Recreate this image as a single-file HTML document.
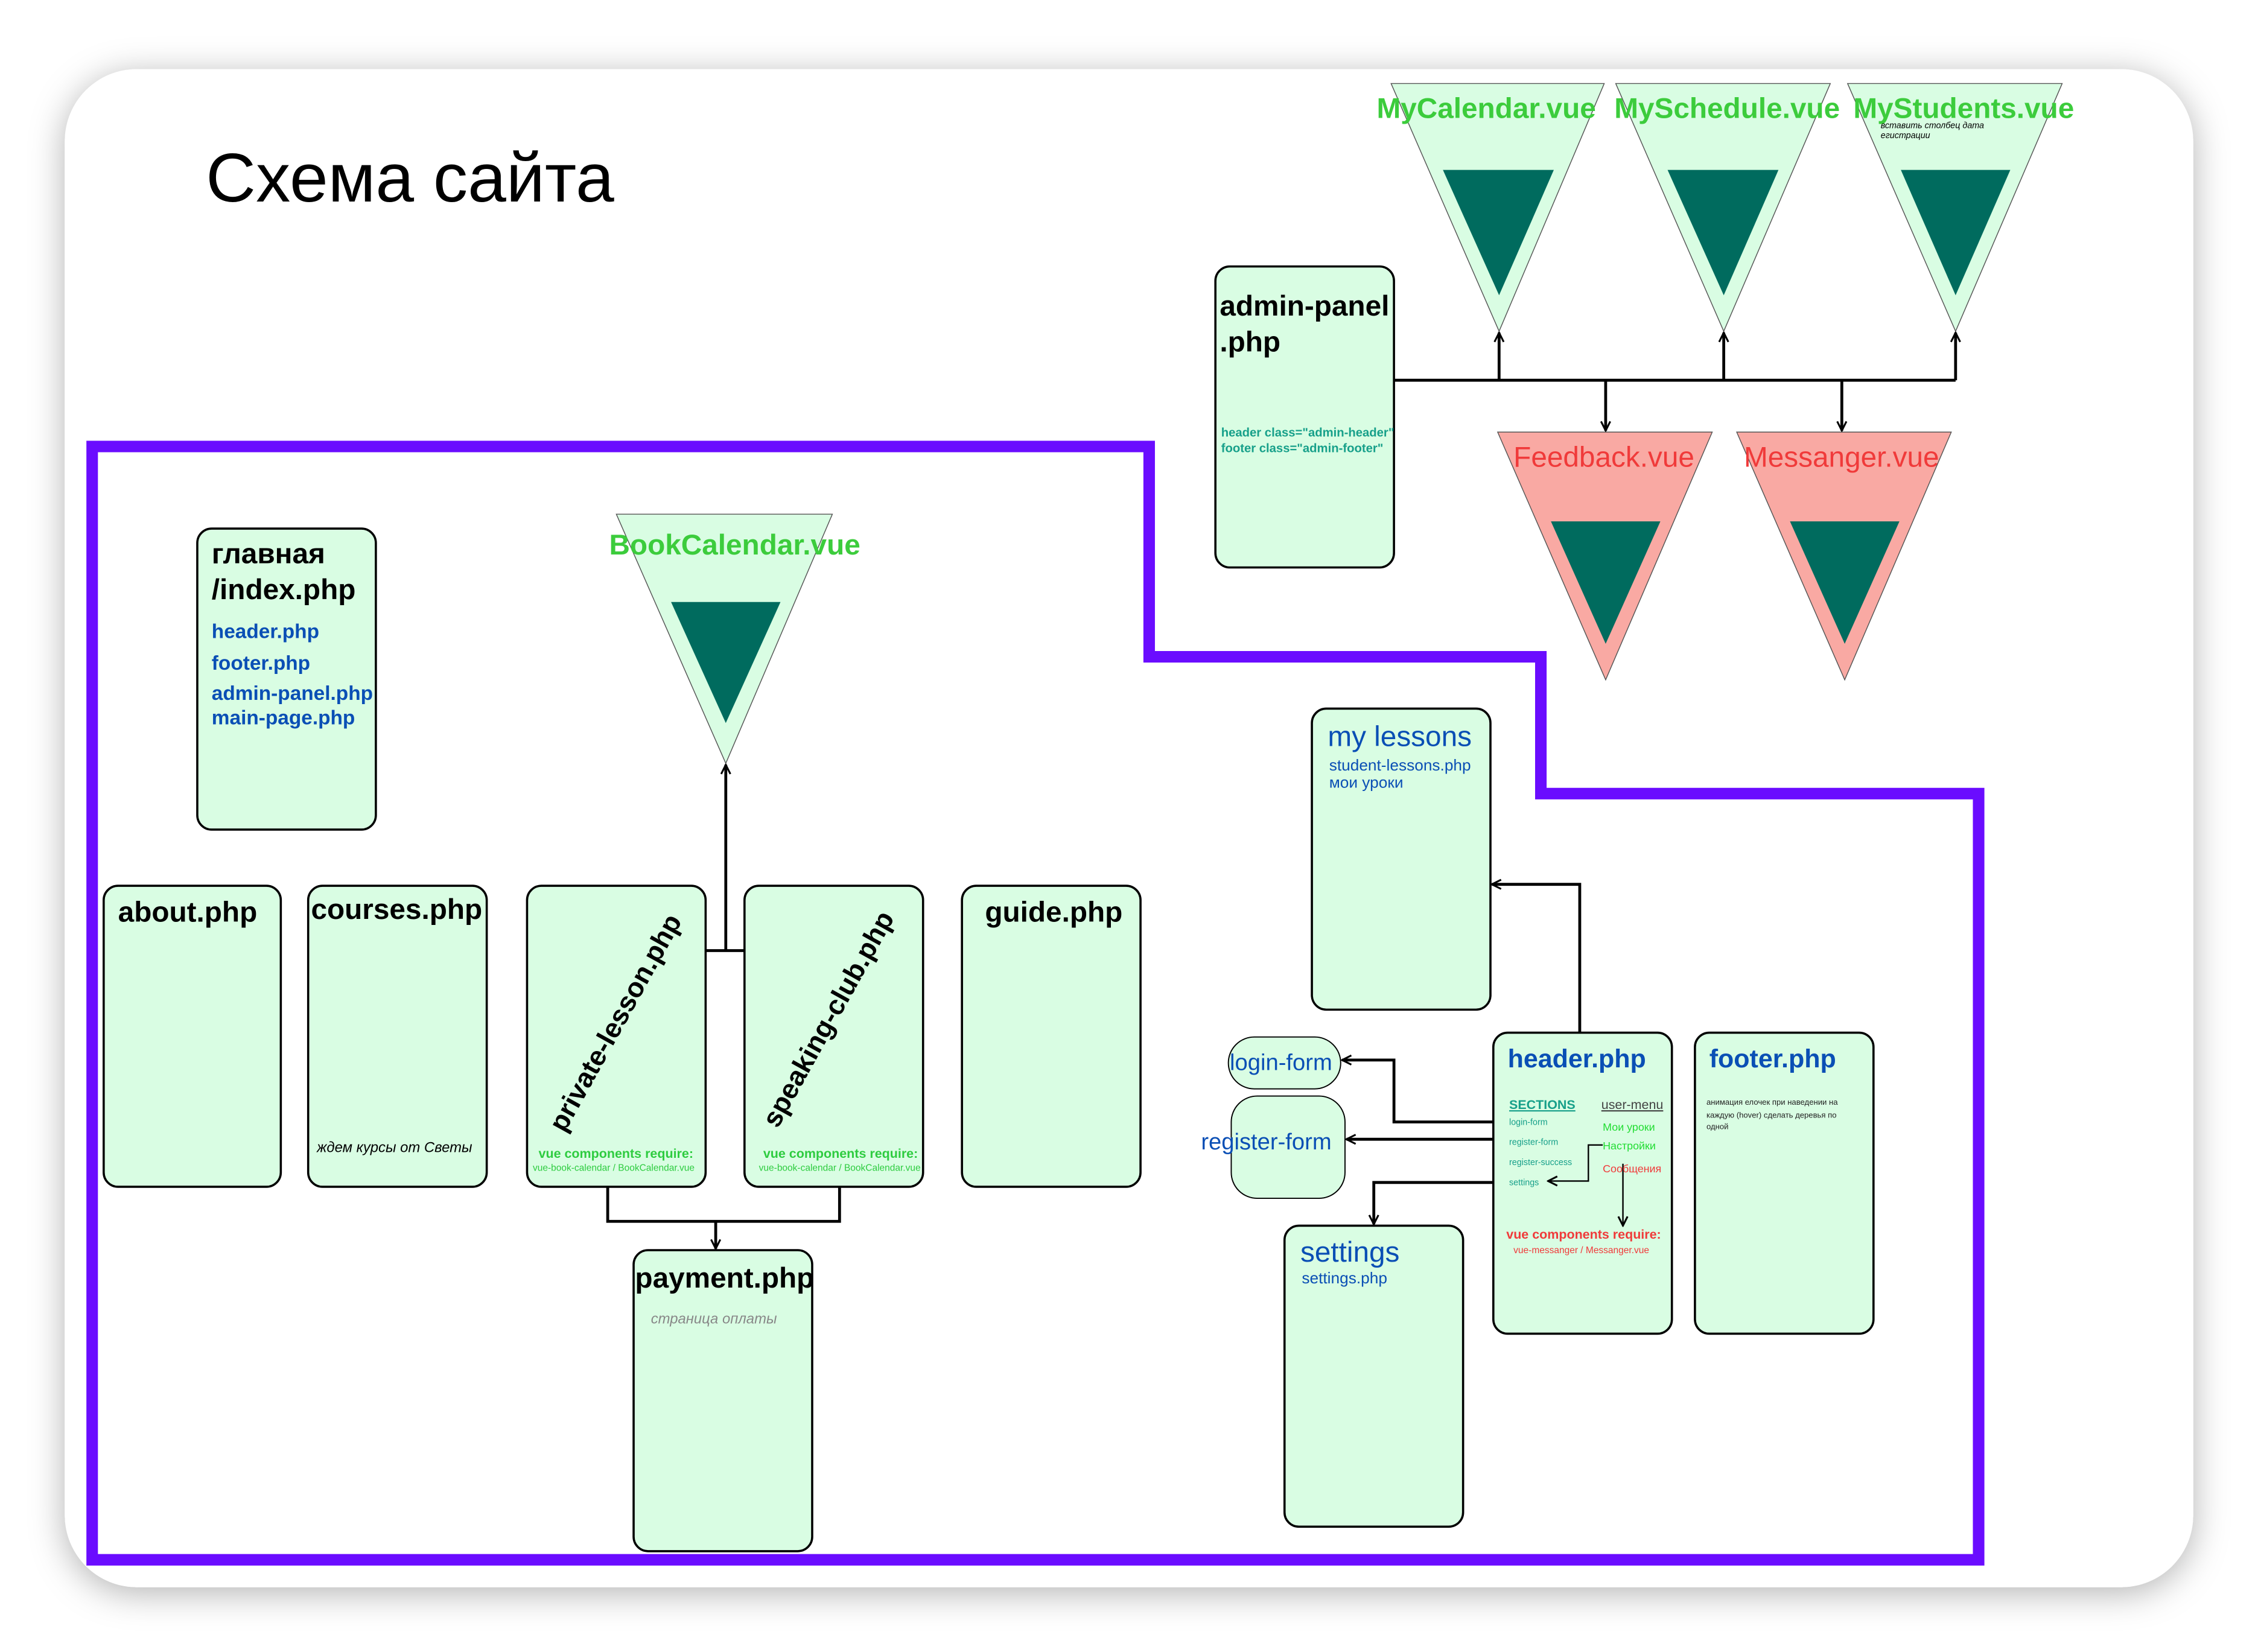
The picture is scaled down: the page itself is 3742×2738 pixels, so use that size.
<!DOCTYPE html>
<html><head><meta charset="utf-8"><style>
html,body{margin:0;padding:0;background:#fff;}
svg{display:block;}
text{font-family:"Liberation Sans","Noto Sans CJK SC",sans-serif;}
</style></head><body>
<svg width="3742" height="2738" viewBox="0 0 1568 1147" preserveAspectRatio="none" xmlns="http://www.w3.org/2000/svg">
<defs>
<filter id="sh" x="-10%" y="-10%" width="120%" height="120%"><feDropShadow dx="0" dy="4" stdDeviation="12" flood-color="#000" flood-opacity="0.3"/></filter>
<marker id="ah" viewBox="0 0 10 10" refX="9" refY="5" markerWidth="8" markerHeight="8" orient="auto" markerUnits="userSpaceOnUse"><path d="M1,1 L9,5 L1,9" fill="none" stroke="#000" stroke-width="1.6"/></marker>
</defs>
<rect x="45" y="48" width="1478" height="1054" rx="50" fill="#fff" filter="url(#sh)"/>
<text x="143" y="140" font-size="48" fill="#000">Схема сайта</text>

<!-- purple outline -->
<path d="M64,310 L798,310 L798,456 L1070,456 L1070,551 L1374,551 L1374,1083 L64,1083 Z" fill="none" stroke="#6a0cff" stroke-width="8"/>

<g fill="#d9fde3" stroke="#000" stroke-width="1.5">
<rect x="137" y="367" width="124" height="209" rx="10"/>
<rect x="72" y="615" width="123" height="209" rx="10"/>
<rect x="214" y="615" width="124" height="209" rx="10"/>
<rect x="366" y="615" width="124" height="209" rx="10"/>
<rect x="517" y="615" width="124" height="209" rx="10"/>
<rect x="668" y="615" width="124" height="209" rx="10"/>
<rect x="440" y="868" width="124" height="209" rx="10"/>
<rect x="844" y="185" width="124" height="209" rx="10"/>
<rect x="911" y="492" width="124" height="209" rx="10"/>
<rect x="1037" y="717" width="124" height="209" rx="10"/>
<rect x="1177" y="717" width="124" height="209" rx="10"/>
<rect x="892" y="851" width="124" height="209" rx="10"/>
<rect x="853" y="720" width="78" height="36" rx="18" stroke-width="0.8"/>
<rect x="855" y="761" width="79" height="71" rx="18" stroke-width="0.8"/>
</g>

<!-- triangles -->
<g stroke="#555" stroke-width="0.6">
<path d="M966,58 L1114,58 L1041,230 Z" fill="#d9fde3"/>
<path d="M1122,58 L1271,58 L1197,230 Z" fill="#d9fde3"/>
<path d="M1283,58 L1432,58 L1358,230 Z" fill="#d9fde3"/>
<path d="M1040,300 L1189,300 L1115,472 Z" fill="#f9a9a3"/>
<path d="M1206,300 L1355,300 L1281,472 Z" fill="#f9a9a3"/>
<path d="M428,357 L578,357 L504,530 Z" fill="#d9fde3"/>
</g>
<g fill="#006b5e">
<path d="M1002,118 L1079,118 L1041,205 Z"/>
<path d="M1158,118 L1235,118 L1197,205 Z"/>
<path d="M1320,118 L1396,118 L1358,205 Z"/>
<path d="M1077,362 L1153,362 L1115,447 Z"/>
<path d="M1243,362 L1319,362 L1281,447 Z"/>
<path d="M466,418 L542,418 L504,502 Z"/>
</g>

<!-- connectors -->
<g fill="none" stroke="#000" stroke-width="2">
<path d="M968,264 L1358,264"/>
<path d="M1041,264 L1041,231" marker-end="url(#ah)"/>
<path d="M1197,264 L1197,231" marker-end="url(#ah)"/>
<path d="M1358,264 L1358,231" marker-end="url(#ah)"/>
<path d="M1115,264 L1115,299" marker-end="url(#ah)"/>
<path d="M1279,264 L1279,299" marker-end="url(#ah)"/>
<path d="M490,660 L517,660"/>
<path d="M504,660 L504,531" marker-end="url(#ah)"/>
<path d="M422,824 L422,848 L583,848 L583,824"/>
<path d="M497,848 L497,867" marker-end="url(#ah)"/>
<path d="M1097,717 L1097,614 L1036,614" marker-end="url(#ah)"/>
<path d="M1037,779 L968,779 L968,736 L932,736" marker-end="url(#ah)"/>
<path d="M1037,791 L935,791" marker-end="url(#ah)"/>
<path d="M1037,821 L954,821 L954,850" marker-end="url(#ah)"/>
</g>
<g fill="none" stroke="#000" stroke-width="1">
<path d="M1113,795 L1103,795 L1103,820 L1075,820" marker-end="url(#ah)"/>
<path d="M1127,808 L1127,851" marker-end="url(#ah)"/>
</g>

<!-- texts -->
<g font-weight="bold" fill="#000" font-size="20">
<text x="147" y="391">главная</text>
<text x="147" y="416">/index.php</text>
<text x="82" y="640">about.php</text>
<text x="216" y="638">courses.php</text>
<text x="684" y="640">guide.php</text>
<text x="441" y="894">payment.php</text>
<text x="847" y="219">admin-panel</text>
<text x="847" y="244">.php</text>
<text transform="translate(392,787) rotate(-61)" font-size="19">private-lesson.php</text>
<text transform="translate(540,784) rotate(-61)" font-size="19">speaking-club.php</text>
</g>
<g font-weight="bold" fill="#0a4fb5" font-size="14">
<text x="147" y="443">header.php</text>
<text x="147" y="465">footer.php</text>
<text x="147" y="486">admin-panel.php</text>
<text x="147" y="503">main-page.php</text>
</g>
<text x="220" y="800" font-size="10" font-style="italic" fill="#000">ждем курсы от Светы</text>
<text x="452" y="919" font-size="10" font-style="italic" fill="#888">страница оплаты</text>
<g fill="#2ecc40">
<text x="374" y="804" font-size="9" font-weight="bold">vue components require:</text>
<text x="370" y="813" font-size="6.5">vue-book-calendar / BookCalendar.vue</text>
<text x="530" y="804" font-size="9" font-weight="bold">vue components require:</text>
<text x="527" y="813" font-size="6.5">vue-book-calendar / BookCalendar.vue</text>
</g>
<g fill="#3ccc3c" font-size="20" font-weight="bold">
<text x="956" y="82">MyCalendar.vue</text>
<text x="1121" y="82">MySchedule.vue</text>
<text x="1287" y="82">MyStudents.vue</text>
<text x="423" y="385">BookCalendar.vue</text>
</g>
<text x="1306" y="89" font-size="6" font-style="italic" fill="#000">вставить столбец дата</text>
<text x="1306" y="96" font-size="6" font-style="italic" fill="#000">егистрации</text>
<g fill="#f03a3a" font-size="20">
<text x="1051" y="324">Feedback.vue</text>
<text x="1211" y="324">Messanger.vue</text>
</g>
<g fill="#17a08a" font-size="8.5" font-weight="bold">
<text x="848" y="303">header class="admin-header"</text>
<text x="848" y="314">footer class="admin-footer"</text>
</g>
<g fill="#0a4fb5">
<text x="922" y="518" font-size="20">my lessons</text>
<text x="923" y="535" font-size="11">student-lessons.php</text>
<text x="923" y="547" font-size="11">мои уроки</text>
<text x="1047" y="741" font-size="18" font-weight="bold">header.php</text>
<text x="1187" y="741" font-size="18" font-weight="bold">footer.php</text>
<text x="903" y="876" font-size="20">settings</text>
<text x="904" y="891" font-size="11">settings.php</text>
<text x="854" y="743" font-size="16">login-form</text>
<text x="834" y="798" font-size="16">register-form</text>
</g>
<g fill="#17a08a" font-size="6">
<text x="1048" y="770" font-size="9" font-weight="bold" text-decoration="underline">SECTIONS</text>
<text x="1048" y="781">login-form</text>
<text x="1048" y="795">register-form</text>
<text x="1048" y="809">register-success</text>
<text x="1048" y="823">settings</text>
</g>
<text x="1112" y="770" font-size="9" fill="#444" text-decoration="underline">user-menu</text>
<text x="1113" y="785" font-size="7.5" fill="#22dd33">Мои уроки</text>
<text x="1113" y="798" font-size="7.5" fill="#22dd33">Настройки</text>
<text x="1113" y="814" font-size="7.5" fill="#f03a3a">Сообщения</text>
<text x="1046" y="860" font-size="9" font-weight="bold" fill="#f03a3a">vue components require:</text>
<text x="1051" y="870" font-size="6.5" fill="#f03a3a">vue-messanger / Messanger.vue</text>
<g fill="#222" font-size="5.5">
<text x="1185" y="767">анимация елочек при наведении на</text>
<text x="1185" y="776">каждую (hover) сделать деревья по</text>
<text x="1185" y="784">одной</text>
</g>
</svg>
</body></html>
